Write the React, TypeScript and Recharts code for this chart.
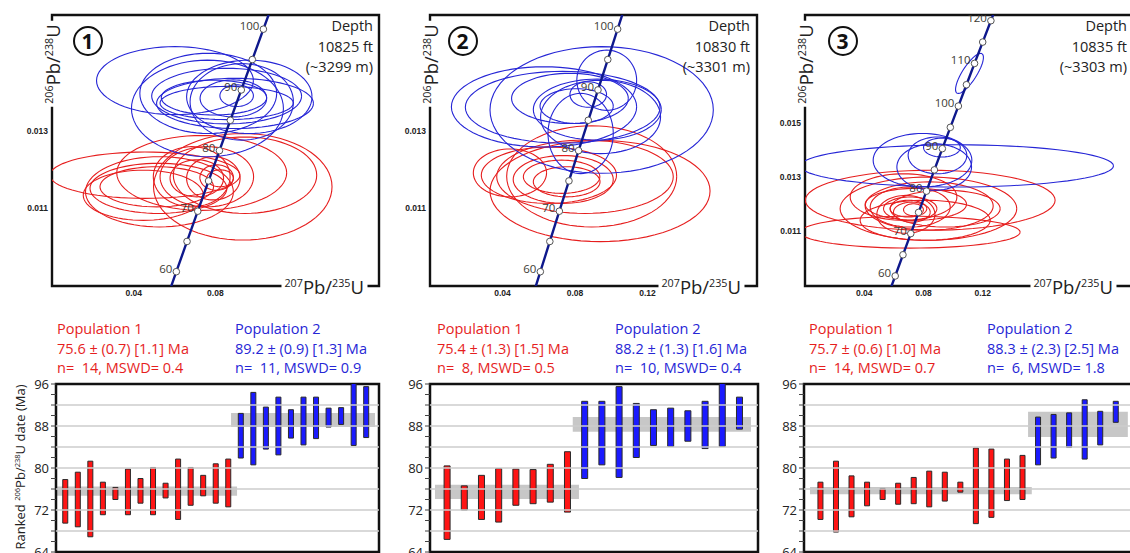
import React from 'react';
import {
  ScatterChart, Scatter, XAxis, YAxis, ComposedChart, Bar, Cell,
  ReferenceArea, ReferenceLine,
} from 'recharts';

const FONT = '"Open Sans", "Noto Sans", sans-serif';
const RED = '#e61e1e';
const BLUE = '#2626d6';
const BAR_RED = '#ff1414';
const BAR_BLUE = '#1a1aff';
const CONC = '#0e188c';

// concordia: [age Ma, 207Pb/235U, 206Pb/238U]
const concordia = [
  [55, 0.05566, 0.008568], [60, 0.06087, 0.009351], [65, 0.06611, 0.010134],
  [70, 0.07137, 0.010918], [75, 0.07666, 0.011702], [80, 0.08198, 0.012487],
  [85, 0.08732, 0.013273], [90, 0.09268, 0.014059], [95, 0.09808, 0.014846],
  [100, 0.1035, 0.015633], [105, 0.10895, 0.016422], [110, 0.11442, 0.01721],
  [115, 0.11992, 0.017999], [120, 0.12545, 0.018789], [125, 0.131, 0.01958],
];

// ellipses: [x, y, sx, sy, rho]
const p1Blue = [
  [0.0602, 0.0143, 0.0384, 0.00088, 0], [0.0761, 0.01358, 0.0372, 0.00125, 0],
  [0.0855, 0.0139, 0.0367, 0.00072, 0], [0.0896, 0.01371, 0.0384, 0.00065, 0],
  [0.0966, 0.01388, 0.0307, 0.00095, 0], [0.0793, 0.01386, 0.0258, 0.00045, 0],
  [0.0904, 0.01391, 0.0082, 0.00028, 0], [0.0888, 0.01384, 0.0163, 0.00048, 0],
  [0.0929, 0.01375, 0.0253, 0.00099, 0], [0.0855, 0.01372, 0.0326, 0.00043, 0],
  [0.0765, 0.01397, 0.0335, 0.00104, 0],
];
const p1Red = [
  [0.0455, 0.01185, 0.0465, 0.0006, 0], [0.0526, 0.01142, 0.0362, 0.00091, 0],
  [0.0521, 0.01151, 0.0335, 0.00065, 0], [0.0934, 0.01155, 0.0437, 0.00138, 0],
  [0.0733, 0.01191, 0.0416, 0.00097, 0], [0.0758, 0.01181, 0.0229, 0.00078, 0],
  [0.0806, 0.01179, 0.0082, 0.00033, 0], [0.079, 0.01177, 0.0131, 0.00056, 0],
  [0.0709, 0.01177, 0.0131, 0.00048, 0], [0.0684, 0.01181, 0.0188, 0.00078, 0],
  [0.0513, 0.01155, 0.0278, 0.00052, 0], [0.0447, 0.01133, 0.0294, 0.00065, 0],
  [0.0945, 0.01185, 0.0351, 0.00099, 0], [0.0823, 0.01177, 0.0065, 0.00022, 0],
];
const p2Blue = [
  [0.0629, 0.01362, 0.0511, 0.00104, 0], [0.0732, 0.01361, 0.0537, 0.00093, 0],
  [0.0947, 0.01354, 0.0616, 0.00164, 0], [0.0772, 0.01384, 0.0322, 0.00065, 0],
  [0.0923, 0.01355, 0.0353, 0.00079, 0], [0.0809, 0.01364, 0.0202, 0.00045, 0],
  [0.0873, 0.01394, 0.0101, 0.00033, 0], [0.0975, 0.01431, 0.0165, 0.00078, 0],
  [0.0941, 0.01336, 0.0331, 0.00095, 0], [0.0831, 0.01293, 0.018, 0.00104, 0],
];
const p2Red = [
  [0.0441, 0.01191, 0.0202, 0.00062, 0], [0.0656, 0.01185, 0.0373, 0.00073, 0],
  [0.0938, 0.01144, 0.0607, 0.00131, 0], [0.0892, 0.01182, 0.0469, 0.00131, 0],
  [0.0735, 0.01174, 0.0276, 0.00062, 0], [0.0726, 0.01181, 0.0211, 0.00043, 0],
  [0.0754, 0.01168, 0.0184, 0.00039, 0], [0.0855, 0.01181, 0.0487, 0.00095, 0],
];
const p3Blue = [
  [0.1025, 0.01342, 0.1057, 0.00078, 0], [0.0793, 0.01363, 0.0333, 0.00099, 0],
  [0.0872, 0.01338, 0.0252, 0.00086, 0], [0.0894, 0.01381, 0.0198, 0.00068, 0],
  [0.0924, 0.0141, 0.0124, 0.00035, 0], [0.111, 0.01684, 0.0094, 0.00074, 0.8],
];
const p3Red = [
  [0.0845, 0.01215, 0.0843, 0.00111, 0], [0.071, 0.01097, 0.0742, 0.00059, 0],
  [0.0833, 0.01184, 0.0596, 0.00117, 0], [0.0838, 0.01194, 0.0432, 0.00089, 0],
  [0.0748, 0.012, 0.0342, 0.00059, 0], [0.071, 0.0119, 0.027, 0.00074, 0],
  [0.071, 0.01184, 0.018, 0.00043, 0], [0.0698, 0.01184, 0.0124, 0.00031, 0],
  [0.0721, 0.01171, 0.0124, 0.00037, 0], [0.0681, 0.01163, 0.0196, 0.0007, 0],
  [0.0946, 0.01184, 0.0371, 0.00068, 0], [0.0732, 0.0118, 0.0067, 0.00022, 0],
  [0.0665, 0.01227, 0.036, 0.00086, 0], [0.0811, 0.01141, 0.0439, 0.00074, 0],
];

// ranked dates: [low, high] Ma
const p1RedBars = [
  [69.5, 77.8], [68.8, 79.2], [66.9, 81.3], [71.1, 77.3], [74.0, 76.3], [71.1, 79.8], [73.3, 78.0],
  [71.1, 80.1], [74.3, 77.1], [70.2, 81.7], [72.9, 80.1], [74.7, 78.6], [73.3, 80.8], [72.6, 81.7],
];
const p1BlueBars = [
  [81.9, 90.4], [80.6, 94.4], [83.6, 91.6], [82.5, 93.5], [85.7, 91.1], [84.4, 93.5],
  [85.6, 93.5], [87.8, 91.4], [88.3, 91.5], [84.3, 97.5], [85.8, 95.5],
];
const p2RedBars = [
  [66.4, 80.4], [72.0, 76.6], [70.2, 78.6], [69.7, 79.9], [72.9, 79.8], [73.2, 79.7], [73.5, 80.7], [71.6, 83.1],
];
const p2BlueBars = [
  [78.0, 92.7], [80.6, 92.7], [78.2, 95.5], [82.0, 92.3], [84.3, 91.1],
  [84.1, 91.4], [85.1, 90.9], [83.7, 92.7], [84.1, 97.5], [87.4, 93.5],
];
const p3RedBars = [
  [70.2, 77.3], [67.8, 81.3], [70.7, 78.5], [72.8, 77.3], [74.0, 76.1], [73.1, 77.1], [73.2, 78.2],
  [72.6, 79.4], [73.7, 79.2], [75.4, 77.3], [69.4, 83.8], [70.6, 83.6], [73.8, 81.7], [74.0, 82.4],
];
const p3BlueBars = [
  [80.6, 89.7], [81.9, 90.2], [83.9, 90.5], [81.7, 93.0], [84.4, 90.8], [88.7, 92.7],
];

// weighted mean bands: [xFrom, xTo, low, high]
const p1Bands = [[0.28, 14.72, 74.7, 76.5], [14.24, 25.72, 87.8, 90.5]];
const p2Bands = [[0.32, 8.69, 74.1, 76.8], [8.33, 18.69, 86.9, 89.7]];
const p3Bands = [[0.31, 14.58, 75.0, 76.4], [14.34, 20.76, 85.9, 90.7]];

const yTicksRanked = [64, 66, 68, 70, 72, 74, 76, 78, 80, 82, 84, 86, 88, 90, 92, 94, 96];
const gridRanked = [68, 72, 76, 80, 84, 88, 92];

const popText = [
  { red: ['75.6 ± (0.7) [1.1] Ma', 'n=  14, MSWD= 0.4'], blue: ['89.2 ± (0.9) [1.3] Ma', 'n=  11, MSWD= 0.9'] },
  { red: ['75.4 ± (1.3) [1.5] Ma', 'n=  8, MSWD= 0.5'], blue: ['88.2 ± (1.3) [1.6] Ma', 'n=  10, MSWD= 0.4'] },
  { red: ['75.7 ± (0.6) [1.0] Ma', 'n=  14, MSWD= 0.7'], blue: ['88.3 ± (2.3) [2.5] Ma', 'n=  6, MSWD= 1.8'] },
];
const depths = [['10825 ft', '(~3299 m)'], ['10830 ft', '(~3301 m)'], ['10835 ft', '(~3303 m)']];

function outline(e: number[]) {
  const [x, y, sx, sy, rho] = e;
  const pts = [];
  const q = Math.sqrt(1 - rho * rho);
  for (let k = 0; k <= 72; k++) {
    const t = (k / 72) * Math.PI * 2;
    pts.push({ x: x + sx * Math.cos(t), y: y + sy * (rho * Math.cos(t) + q * Math.sin(t)) });
  }
  return pts;
}

const noDot = () => <g />;

const AgeDot = (props: any) => {
  const { cx, cy, payload } = props;
  return (
    <g>
      <circle cx={cx} cy={cy} r={3.3} fill="#fff" stroke="#555" strokeWidth={1} />
      {payload.age % 10 === 0 && (
        <text x={cx - 4} y={cy + 1} textAnchor="end" fontSize={11.5} fill="#3d3b34" fontFamily={FONT}>
          {payload.age}
        </text>
      )}
    </g>
  );
};

const Iso = ({ a, b }: { a: string; b: string }) => (
  <>
    <span style={{ fontSize: '0.58em', verticalAlign: '0.6em' }}>{a}</span>Pb/
    <span style={{ fontSize: '0.58em', verticalAlign: '0.6em' }}>{b}</span>U
  </>
);

function ConcordiaPanel(props: any) {
  const { left, width, right, xMax, yMax, xTicks, yTicks, blue, red, maxAge } = props;
  const yMin = 0.00898;
  const line = concordia.filter((c) => c[0] <= maxAge + 5).map((c) => ({ x: c[1], y: c[2] }));
  const dots = concordia
    .filter((c) => c[0] >= 60 && c[0] <= maxAge)
    .map((c) => ({ age: c[0], x: c[1], y: c[2] }));
  const tickStyle = { fontSize: 8.5, fontWeight: 700, fill: '#222', fontFamily: '"Liberation Sans", Arial, sans-serif' };
  return (
    <div style={{ position: 'absolute', left, top: 0 }}>
      <ScatterChart width={width} height={305} margin={{ top: 15, right, bottom: 0, left: 0 }}>
        <XAxis type="number" dataKey="x" domain={[0, xMax]} allowDataOverflow ticks={xTicks} interval={0}
          tickFormatter={(v: number) => v.toFixed(2)} axisLine={false} tickLine={false}
          tickSize={0} tickMargin={4} height={19} tick={tickStyle} />
        <YAxis type="number" dataKey="y" domain={[yMin, yMax]} allowDataOverflow ticks={yTicks} interval={0}
          tickFormatter={(v: number) => v.toFixed(3)} axisLine={false} tickLine={false}
          tickSize={0} tickMargin={4} width={52} tick={tickStyle} />
        {red.map((e: number[], i: number) => (
          <Scatter key={'r' + i} data={outline(e)} fill={RED} line={{ stroke: RED, strokeWidth: 1.1 }}
            shape={noDot} isAnimationActive={false} />
        ))}
        {blue.map((e: number[], i: number) => (
          <Scatter key={'b' + i} data={outline(e)} fill={BLUE} line={{ stroke: BLUE, strokeWidth: 1.1 }}
            shape={noDot} isAnimationActive={false} />
        ))}
        <Scatter data={line} fill={CONC} line={{ stroke: CONC, strokeWidth: 2.4 }} shape={noDot} isAnimationActive={false} />
        <Scatter data={dots} fill="#fff" shape={AgeDot} isAnimationActive={false} />
        <ReferenceArea x1={0} x2={xMax} y1={yMin} y2={yMax} fill="none" stroke="#111" strokeWidth={2.4} ifOverflow="visible" />
      </ScatterChart>
    </div>
  );
}

function RankedPanel(props: any) {
  const { left, width, right, domain, redBars, blueBars, bands, barSize } = props;
  const data = [
    ...redBars.map((r: number[], i: number) => ({ i: i + 1, range: r, c: BAR_RED })),
    ...blueBars.map((r: number[], i: number) => ({ i: redBars.length + i + 1, range: r, c: BAR_BLUE })),
  ];
  return (
    <div style={{ position: 'absolute', left, top: 376 }}>
      <ComposedChart width={width} height={184} data={data} margin={{ top: 8, right, bottom: 8, left: 0 }}>
        <XAxis type="number" dataKey="i" domain={domain} allowDataOverflow hide />
        <YAxis type="number" domain={[64, 96]} allowDataOverflow ticks={yTicksRanked} interval={0} width={56}
          tickFormatter={(v: number) => (v % 8 === 0 ? String(v) : '')}
          axisLine={false} tickLine={{ stroke: '#444' }} tickSize={5} tickMargin={2}
          tick={{ fontSize: 13, fill: '#222', fontFamily: FONT }} />
        {bands.map((b: number[], k: number) => (
          <ReferenceArea key={'band' + k} x1={b[0]} x2={b[1]} y1={b[2]} y2={b[3]} fill="#b9b9b9" fillOpacity={0.8} stroke="none" />
        ))}
        {gridRanked.map((v) => (
          <ReferenceLine key={'g' + v} y={v} stroke="#cdcdcd" strokeWidth={1.5} />
        ))}
        <Bar dataKey="range" barSize={barSize} stroke="#2a2a2a" strokeWidth={1} isAnimationActive={false}>
          {data.map((d: any, k: number) => (
            <Cell key={k} fill={d.c} />
          ))}
        </Bar>
        <ReferenceArea x1={domain[0]} x2={domain[1]} y1={64} y2={96} fill="none" stroke="#111" strokeWidth={2.5} ifOverflow="visible" />
      </ComposedChart>
    </div>
  );
}

const abs = (extra: React.CSSProperties): React.CSSProperties => ({ position: 'absolute', fontFamily: FONT, whiteSpace: 'pre', ...extra });

function Annotations({ k, circleX, depthRight, yTitleX, xTitleRight, popRedX, popBlueX }: any) {
  return (
    <>
      <div style={abs({ left: circleX - 15.5, top: 41 - 15.5, width: 26, height: 26, border: '2.5px solid #111', borderRadius: '50%',
        textAlign: 'center', lineHeight: '26px', fontSize: 21, fontWeight: 700, color: '#111' })}>{k + 1}</div>
      <div style={abs({ left: depthRight, top: 16, transform: 'translateX(-100%)', textAlign: 'right', fontSize: 14.5, lineHeight: '20.5px', color: '#222' })}>
        {'Depth\n' + depths[k][0] + '\n' + depths[k][1]}
      </div>
      <div style={abs({ left: yTitleX, top: 64, transform: 'translate(-50%, -50%) rotate(-90deg)', fontSize: 18.5, lineHeight: 1, background: '#fff', padding: '0 3px', color: '#222' })}>
        <Iso a="206" b="238" />
      </div>
      <div style={abs({ left: xTitleRight, top: 287, transform: 'translate(-100%, -50%)', fontSize: 18.5, lineHeight: 1, background: '#fff', padding: '0 3px', color: '#222' })}>
        <Iso a="207" b="235" />
      </div>
      <div style={abs({ left: popRedX, top: 319, fontSize: 14.5, lineHeight: '19.5px', color: RED })}>
        {'Population 1\n' + popText[k].red[0] + '\n' + popText[k].red[1]}
      </div>
      <div style={abs({ left: popBlueX, top: 319, fontSize: 14.5, lineHeight: '19.5px', color: BLUE })}>
        {'Population 2\n' + popText[k].blue[0] + '\n' + popText[k].blue[1]}
      </div>
    </>
  );
}

export default function App() {
  return (
    <div style={{ position: 'absolute', left: 0, top: 0, width: 1130, height: 553, overflow: 'hidden', background: '#fff' }}>
      <ConcordiaPanel left={0} width={385} right={6} xMax={0.1601} yMax={0.016}
        xTicks={[0.04, 0.08]} yTicks={[0.011, 0.013]} blue={p1Blue} red={p1Red} maxAge={100} />
      <ConcordiaPanel left={378} width={385} right={6} xMax={0.1804} yMax={0.016}
        xTicks={[0.04, 0.08, 0.12]} yTicks={[0.011, 0.013]} blue={p2Blue} red={p2Red} maxAge={100} />
      <ConcordiaPanel left={753} width={382} right={0} xMax={0.2227} yMax={0.019}
        xTicks={[0.04, 0.08, 0.12]} yTicks={[0.011, 0.013, 0.015]} blue={p3Blue} red={p3Red} maxAge={120} />

      <RankedPanel left={0} width={385} right={6} domain={[0.28, 26.04]} redBars={p1RedBars} blueBars={p1BlueBars} bands={p1Bands} barSize={5} />
      <RankedPanel left={374} width={390} right={6} domain={[0.03, 19.1]} redBars={p2RedBars} blueBars={p2BlueBars} bands={p2Bands} barSize={6} />
      <RankedPanel left={748} width={387} right={0} domain={[-0.075, 21.22]} redBars={p3RedBars} blueBars={p3BlueBars} bands={p3Bands} barSize={5} />

      <Annotations k={0} circleX={88} depthRight={373} yTitleX={53} xTitleRight={367} popRedX={57} popBlueX={235} />
      <Annotations k={1} circleX={463} depthRight={750} yTitleX={431} xTitleRight={744} popRedX={437} popBlueX={615} />
      <Annotations k={2} circleX={843} depthRight={1127} yTitleX={806} xTitleRight={1116} popRedX={809} popBlueX={987} />

      <div style={abs({ left: 20, top: 467, transform: 'translate(-50%, -50%) rotate(-90deg)', fontSize: 13, lineHeight: 1, color: '#222' })}>
        Ranked <Iso a="206" b="238" /> date (Ma)
      </div>
    </div>
  );
}
